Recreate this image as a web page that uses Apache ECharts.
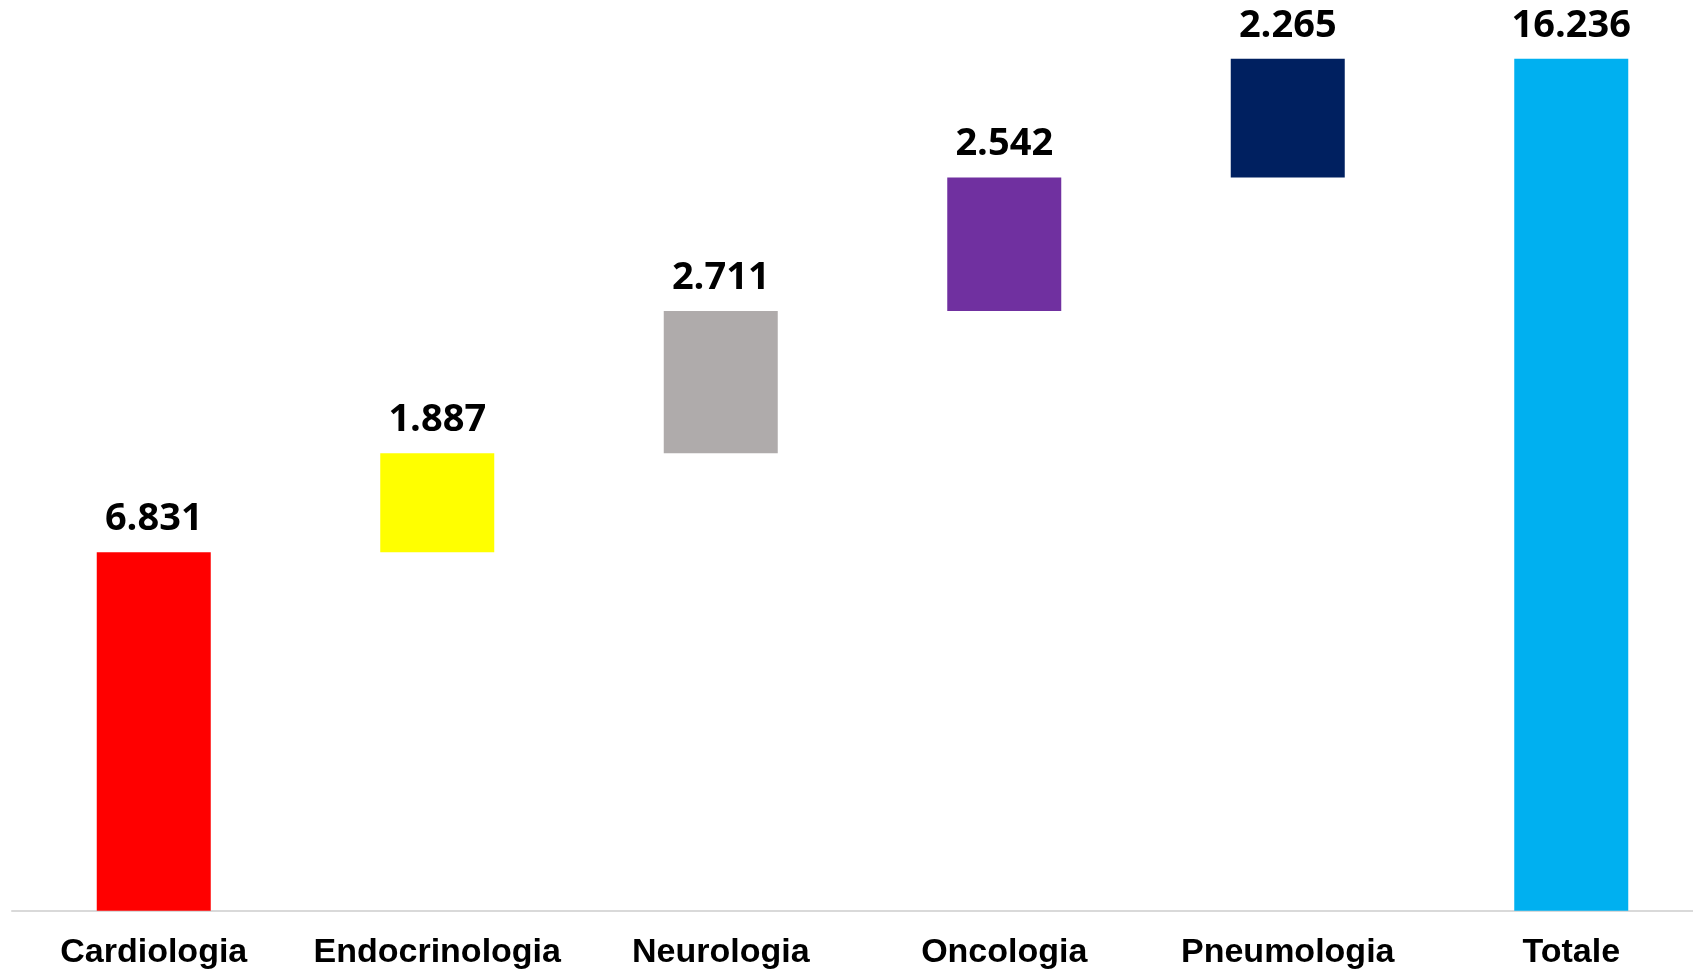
<!DOCTYPE html>
<html>
<head>
<meta charset="utf-8">
<title>Waterfall</title>
<script src="https://cdn.jsdelivr.net/npm/echarts@6/dist/echarts.min.js"></script>
<style>
  html, body { margin: 0; padding: 0; background: #fff; }
  #chart { width: 1693px; height: 971px; }
</style>
</head>
<body>
<div id="chart"></div>
<script>
// categories and values
const categories = ['Cardiologia', 'Endocrinologia', 'Neurologia', 'Oncologia', 'Pneumologia', 'Totale']
const values = [6831, 1887, 2711, 2542, 2265, 16236]
const colors = ['#FF0000', '#FFFF00', '#AFABAB', '#7030A0', '#002060', '#00B0F0']

// invisible base under each step; the last bar (total) starts from zero
const bases = []
let running = 0
values.forEach((v, i) => {
  const isTotal = i === values.length - 1
  bases.push(isTotal ? 0 : running)
  if (!isTotal) running += v
})

// 6831 -> "6.831"
const fmt = (v) => String(v).replace(/\B(?=(\d{3})+(?!\d))/g, '.')

const chart = echarts.init(document.getElementById('chart'))

chart.setOption({
  backgroundColor: '#ffffff',
  animation: false,
  // plot area runs a little past the right edge, like the original
  grid: { left: 12, width: 1701, top: 18.6, bottom: 60.3, outerBoundsMode: 'none', containLabel: false },
  xAxis: {
    type: 'category',
    data: categories,
    axisLine: { lineStyle: { color: '#d9d9d9', width: 2 } },
    axisTick: { show: false },
    axisLabel: {
      color: '#000',
      fontFamily: 'Liberation Sans',
      fontWeight: 'bold',
      fontSize: 34,
      margin: 25,
      interval: 0,
    },
  },
  yAxis: {
    type: 'value',
    min: 0,
    max: 17000,
    show: false,
    splitLine: { show: false },
  },
  series: [
    {
      type: 'bar',
      stack: 'wf',
      barWidth: 114,
      silent: true,
      itemStyle: { color: 'transparent' },
      data: bases,
    },
    {
      type: 'bar',
      stack: 'wf',
      barWidth: 114,
      data: values.map((v, i) => ({ value: v, itemStyle: { color: colors[i] } })),
      label: {
        show: true,
        position: 'top',
        distance: 14,
        color: '#000',
        fontFamily: 'Open Sans',
        fontWeight: 'bold',
        fontSize: 38,
        formatter: (p) => fmt(p.value),
      },
    },
  ],
})
</script>
</body>
</html>
